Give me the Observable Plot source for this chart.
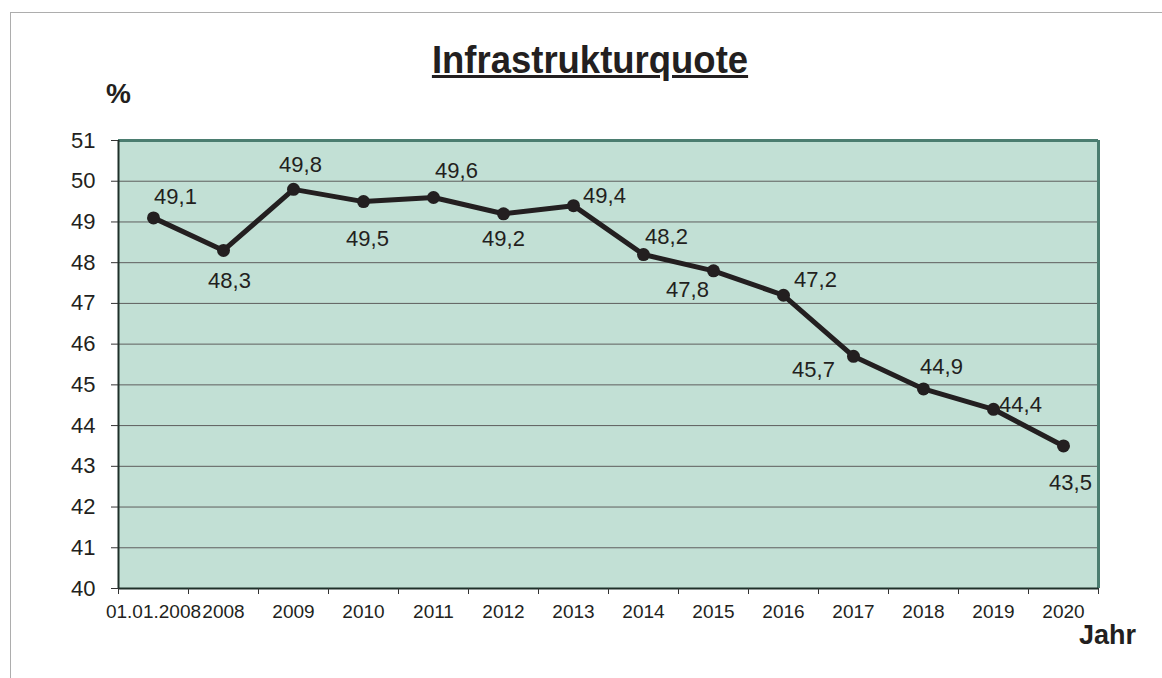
<!DOCTYPE html>
<html><head><meta charset="utf-8">
<script src="https://cdn.jsdelivr.net/npm/d3@7"></script>
<script src="https://cdn.jsdelivr.net/npm/@observablehq/plot@0.6"></script>
<style>
body{margin:0;background:#fff;}
#wrap{position:relative;width:1162px;height:678px;overflow:hidden;font-family:"Liberation Sans",Arial,sans-serif;}
#chart{position:absolute;left:0;top:0;}
#frame{position:absolute;left:10px;top:12px;width:1200px;height:700px;border-top:1.5px solid #adadad;border-left:1.5px solid #adadad;}
#title{position:absolute;left:0;top:41px;width:1180px;text-align:center;font-weight:bold;font-size:38px;line-height:38px;text-decoration:underline;color:#231f20;transform:scaleX(0.96);transform-origin:590px 0;}
</style></head>
<body><div id="wrap"><div id="chart"></div><div id="frame"></div><div id="title">Infrastrukturquote</div></div>
<script>
const categories = ["01.01.2008","2008","2009","2010","2011","2012","2013","2014","2015","2016","2017","2018","2019","2020"];
const values = [49.1,48.3,49.8,49.5,49.6,49.2,49.4,48.2,47.8,47.2,45.7,44.9,44.4,43.5];
const yTicks = [40,41,42,43,44,45,46,47,48,49,50,51];
const labelOffsets = [[22,-21],[6,30],[7,-24],[4,37],[23,-27],[0,25],[31,-10],[23,-18],[-26,19],[32,-15],[-40,14],[18,-22],[27,-4],[7,37]];

const rows = values.map((v, i) => ({cat: categories[i], pos: i + 0.5, value: v}));
const fmt = v => v.toFixed(1).replace(".", ",");
const ink = "#231f20";

const chart = Plot.plot({
  width: 1162, height: 678,
  marginLeft: 118, marginRight: 64, marginTop: 140, marginBottom: 90,
  style: {background: "transparent", fontFamily: "Liberation Sans, Arial, sans-serif", color: ink},
  x: {type: "linear", domain: [0, categories.length]},
  y: {domain: [40, 51]},
  marks: [
    Plot.frame({fill: "#c2e0d5", stroke: null}),
    Plot.gridY(yTicks.slice(1, -1), {stroke: "#5e5e5e", strokeOpacity: 1}),
    Plot.ruleY([51], {stroke: "#4b7d70", strokeWidth: 3}),
    Plot.ruleX([categories.length], {stroke: "#4b7d70", strokeWidth: 3}),
    Plot.ruleX([0], {stroke: "#1f302a", strokeWidth: 2}),
    Plot.ruleY([40], {stroke: "#1f302a", strokeWidth: 2}),
    Plot.axisY(yTicks, {tickSize: 7, tickFormat: () => "", label: null, stroke: "#333"}),
    Plot.text(yTicks, {y: d => d, frameAnchor: "left", dx: -23, textAnchor: "end", lineAnchor: "middle", fontSize: 22, fill: ink}),
    Plot.axisX(d3.range(categories.length + 1), {tickSize: 6, tickFormat: () => "", label: null, stroke: "#333"}),
    Plot.axisX(rows.map(d => d.pos), {tickSize: 0, tickPadding: 16, fontSize: 19, tickFormat: p => categories[Math.floor(p)], label: null}),
    Plot.line(rows, {x: "pos", y: "value", stroke: ink, strokeWidth: 5}),
    Plot.dot(rows, {x: "pos", y: "value", r: 6.5, fill: ink}),
    ...rows.map((d, i) => Plot.text([d], {x: "pos", y: "value", text: r => fmt(r.value), dx: labelOffsets[i][0], dy: labelOffsets[i][1], fontSize: 22, textAnchor: "middle", lineAnchor: "middle", fill: ink})),
    Plot.text(["%"], {frameAnchor: "top-left", dx: 0, dy: -46, fontSize: 28, fontWeight: "bold", textAnchor: "middle", lineAnchor: "middle", fill: ink}),
    Plot.text(["Jahr"], {frameAnchor: "bottom-right", dx: 9, dy: 47, fontSize: 27, fontWeight: "bold", textAnchor: "middle", lineAnchor: "middle", fill: ink})
  ]
});
document.getElementById("chart").appendChild(chart);
</script>
</body></html>
